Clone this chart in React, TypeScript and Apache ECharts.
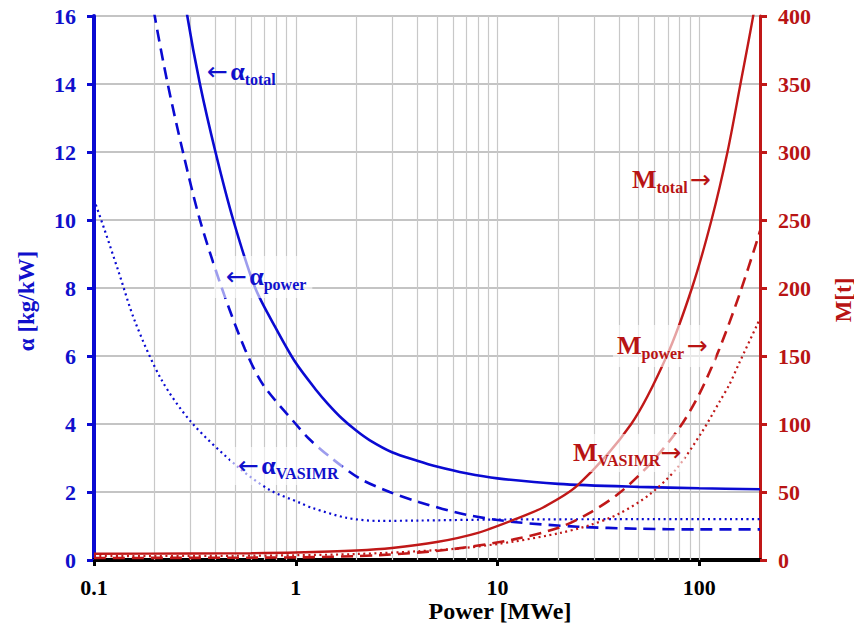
import React, { useEffect, useRef } from "react";
import * as echarts from "echarts";

// ---------- data ----------
const powerMin = 0.1;
const powerMax = 200;
const xLabelValues = [0.1, 1, 10, 100];
const minorGridValues = [
  0.2, 0.3, 0.4, 0.5, 0.6, 0.7, 0.8, 0.9,
  2, 3, 4, 5, 6, 7, 8, 9,
  20, 30, 40, 50, 60, 70, 80, 90,
  1, 10, 100,
];
const alphaMin = 0;
const alphaMax = 16;
const alphaStep = 2;
const massMin = 0;
const massMax = 400;
const massStep = 50;

const alphaTotal: number[][] = [
  [0.25, 18.6], [0.29, 16], [0.335, 14], [0.4, 12], [0.49, 10], [0.63, 8],
  [0.8, 6.8], [1, 5.8], [1.27, 4.98], [1.45, 4.58], [1.69, 4.17], [2, 3.8],
  [2.33, 3.52], [3, 3.17], [4, 2.92], [5, 2.75], [7, 2.55], [10, 2.4],
  [20, 2.24], [50, 2.15], [100, 2.11], [200, 2.08],
];
const alphaPower: number[][] = [
  [0.18, 17.8], [0.2, 16], [0.232, 14], [0.276, 12], [0.335, 10], [0.43, 8],
  [0.56, 6.2], [0.69, 5.15], [1, 4], [1.17, 3.55], [1.5, 3.0], [2.07, 2.4],
  [2.92, 2.0], [4.1, 1.7], [7, 1.33], [12, 1.12], [25, 0.98], [50, 0.92],
  [100, 0.9], [200, 0.9],
];
const alphaVasimr: number[][] = [
  [0.1, 10.6], [0.113, 9.7], [0.132, 8.5], [0.16, 7.0], [0.216, 5.3],
  [0.306, 4.03], [0.516, 2.74], [0.743, 2.06], [1.05, 1.68], [1.21, 1.53],
  [1.79, 1.24], [2.6, 1.15], [4, 1.16], [10, 1.19], [50, 1.2], [200, 1.2],
];
const massTotal: number[][] = [
  [0.1, 4.6], [0.3, 4.8], [0.6, 5], [1, 5.5], [2, 7], [3, 8.8], [5, 13.2],
  [8, 20], [12, 29.5], [17, 39], [25, 55], [46, 100], [69, 150], [92, 200],
  [115, 250], [138, 300], [160, 350], [185, 400], [200, 432],
];
const massDashed: number[][] = [
  [0.1, 1.5], [1, 1.9], [2.6, 3.6], [5.6, 7.5], [11.9, 15], [20.3, 24],
  [28.5, 34.5], [40, 49], [56.5, 70], [79.6, 97], [100, 122], [125.6, 155],
  [158, 195], [193.6, 235], [200, 242],
];
const massDotted: number[][] = [
  [0.1, 2.8], [0.5, 3.1], [1, 3.5], [2, 4.4], [4, 6.4], [7, 9], [12, 13.5],
  [20.3, 19.8], [28.5, 25.5], [40, 34], [56.5, 48], [77, 67], [103, 94],
  [125.6, 116], [141, 129], [158, 145], [193.6, 173], [200, 178],
];

const BLUE = "#1010cc";
const BLUE_LINE = "#0a0ad2";
const RED = "#b81414";
const RED_LINE = "#c01818";
const SERIF = "Liberation Serif";

function isPow10(v: number) {
  const l = Math.log10(v);
  return Math.abs(l - Math.round(l)) < 1e-6;
}

function annotation(
  x: number,
  y: number,
  text: string,
  color: string,
  bg: boolean,
  padding: number[]
) {
  return {
    type: "text",
    x,
    y,
    z: 100,
    silent: true,
    style: {
      text,
      align: "left",
      verticalAlign: "middle",
      fill: color,
      backgroundColor: bg ? "rgba(255,255,255,0.6)" : "transparent",
      padding,
      rich: {
        r: {
          fontFamily: "DejaVu Sans",
          fontSize: 25,
          fontWeight: "normal",
          fill: color,
          verticalAlign: "bottom",
          lineHeight: 30,
          padding: [0, 0, 3, 0],
        },
        a: {
          fontFamily: SERIF,
          fontSize: 26,
          fontWeight: "bold",
          fill: color,
          verticalAlign: "bottom",
          lineHeight: 30,
          padding: [0, 0, 3, 0],
        },
        s: {
          fontFamily: SERIF,
          fontSize: 16,
          fontWeight: "bold",
          fill: color,
          verticalAlign: "bottom",
          lineHeight: 30,
        },
        g: { fontSize: 8, lineHeight: 30, verticalAlign: "bottom" },
      },
    },
  };
}

export default function App() {
  const ref = useRef<HTMLDivElement>(null);

  useEffect(() => {
    if (!ref.current) return;
    const chart = echarts.init(ref.current, undefined, { renderer: "svg" });

    const lineBase = {
      type: "line",
      showSymbol: false,
      symbol: "none",
      smooth: 0.3,
      z: 3,
      silent: true,
    };

    const option: any = {
      animation: false,
      backgroundColor: "#ffffff",
      textStyle: { fontFamily: SERIF },
      grid: { left: 94, right: 94, top: 16, bottom: 68, containLabel: false },
      xAxis: {
        type: "log",
        logBase: 10,
        min: powerMin,
        max: powerMax,
        axisLine: { show: true, onZero: false, lineStyle: { color: "#000", width: 4 } },
        axisTick: {
          show: true,
          length: 6,
          inside: false,
          customValues: xLabelValues,
          lineStyle: { color: "#000", width: 3 },
        },
        axisLabel: {
          show: true,
          margin: 16,
          customValues: xLabelValues,
          color: "#000",
          fontFamily: SERIF,
          fontWeight: "bold",
          fontSize: 22,
          formatter: (v: number) =>
            isPow10(v) ? String(Number(v.toPrecision(6))) : "",
        },
        splitLine: { show: false },
        minorTick: { show: false },
      },
      yAxis: [
        {
          type: "value",
          min: alphaMin,
          max: alphaMax,
          interval: alphaStep,
          position: "left",
          axisLine: { show: true, lineStyle: { color: BLUE_LINE, width: 4 } },
          axisTick: { show: true, length: 7, lineStyle: { color: BLUE_LINE, width: 3 } },
          axisLabel: {
            margin: 18,
            color: BLUE,
            fontFamily: SERIF,
            fontWeight: "bold",
            fontSize: 22,
          },
          splitLine: { show: true, lineStyle: { color: "#b0b0b0", width: 1.5 } },
        },
        {
          type: "value",
          min: massMin,
          max: massMax,
          interval: massStep,
          position: "right",
          axisLine: { show: true, lineStyle: { color: RED_LINE, width: 3 } },
          axisTick: { show: true, length: 7, lineStyle: { color: RED_LINE, width: 3 } },
          axisLabel: {
            margin: 18,
            color: RED,
            fontFamily: SERIF,
            fontWeight: "bold",
            fontSize: 22,
          },
          splitLine: { show: false },
        },
      ],
      series: [
        {
          type: "line",
          data: [],
          z: 1,
          silent: true,
          markLine: {
            z: 1,
            silent: true,
            symbol: ["none", "none"],
            label: { show: false },
            emphasis: { disabled: true },
            lineStyle: { color: "#c8c8c8", width: 1.2, type: "solid" },
            data: minorGridValues.map((v) => ({ xAxis: v })),
          },
        },
        {
          ...lineBase,
          name: "alpha total",
          yAxisIndex: 0,
          data: alphaTotal,
          lineStyle: { color: BLUE_LINE, width: 2.6, type: "solid" },
        },
        {
          ...lineBase,
          name: "alpha power",
          yAxisIndex: 0,
          data: alphaPower,
          lineStyle: { color: BLUE_LINE, width: 2.6, type: [12, 7] },
        },
        {
          ...lineBase,
          name: "alpha VASIMR",
          yAxisIndex: 0,
          data: alphaVasimr,
          lineStyle: { color: BLUE_LINE, width: 2.2, type: [2, 3.5] },
        },
        {
          ...lineBase,
          name: "M total",
          yAxisIndex: 1,
          data: massTotal,
          lineStyle: { color: RED_LINE, width: 2.4, type: "solid" },
        },
        {
          ...lineBase,
          name: "M dashed",
          yAxisIndex: 1,
          data: massDashed,
          lineStyle: { color: RED_LINE, width: 2.6, type: [12, 7] },
        },
        {
          ...lineBase,
          name: "M dotted",
          yAxisIndex: 1,
          data: massDotted,
          lineStyle: { color: RED_LINE, width: 2.2, type: [2, 3.5] },
        },
      ],
      graphic: [
        {
          type: "text",
          x: 500,
          y: 611,
          z: 100,
          style: {
            text: "Power [MWe]",
            align: "center",
            verticalAlign: "middle",
            fill: "#000",
            fontFamily: SERIF,
            fontWeight: "bold",
            fontSize: 24,
          },
        },
        {
          type: "text",
          x: 26,
          y: 301,
          z: 100,
          rotation: Math.PI / 2,
          style: {
            text: "α [kg/kW]",
            align: "center",
            verticalAlign: "middle",
            fill: BLUE,
            fontFamily: SERIF,
            fontWeight: "bold",
            fontSize: 23,
          },
        },
        {
          type: "text",
          x: 843,
          y: 300,
          z: 100,
          rotation: Math.PI / 2,
          style: {
            text: "M[t]",
            align: "center",
            verticalAlign: "middle",
            fill: RED,
            fontFamily: SERIF,
            fontWeight: "bold",
            fontSize: 23,
          },
        },
        annotation(205, 72, "{r|←}{g| }{a|α}{s|total}", BLUE, false, [0, 2, 0, 2]),
        annotation(214, 277, "{r|←}{g| }{a|α}{s|power}", BLUE, true, [6, 6, 6, 12]),
        annotation(230, 466, "{r|←}{g| }{a|α}{s|VASIMR}", BLUE, true, [4, 4, 4, 8]),
        annotation(630, 180, "{a|M}{s|total}{g| }{r|→}", RED, false, [0, 2, 0, 2]),
        annotation(613, 346, "{a|M}{s|power}{g| }{r|→}", RED, true, [6, 8, 6, 4]),
        annotation(569, 453, "{a|M}{s|VASIMR}{r|→}", RED, true, [4, 4, 4, 4]),
      ],
    };

    chart.setOption(option);
    return () => {
      chart.dispose();
    };
  }, []);

  return (
    <div
      ref={ref}
      style={{ position: "absolute", left: 0, top: 0, width: 854, height: 628 }}
    />
  );
}
